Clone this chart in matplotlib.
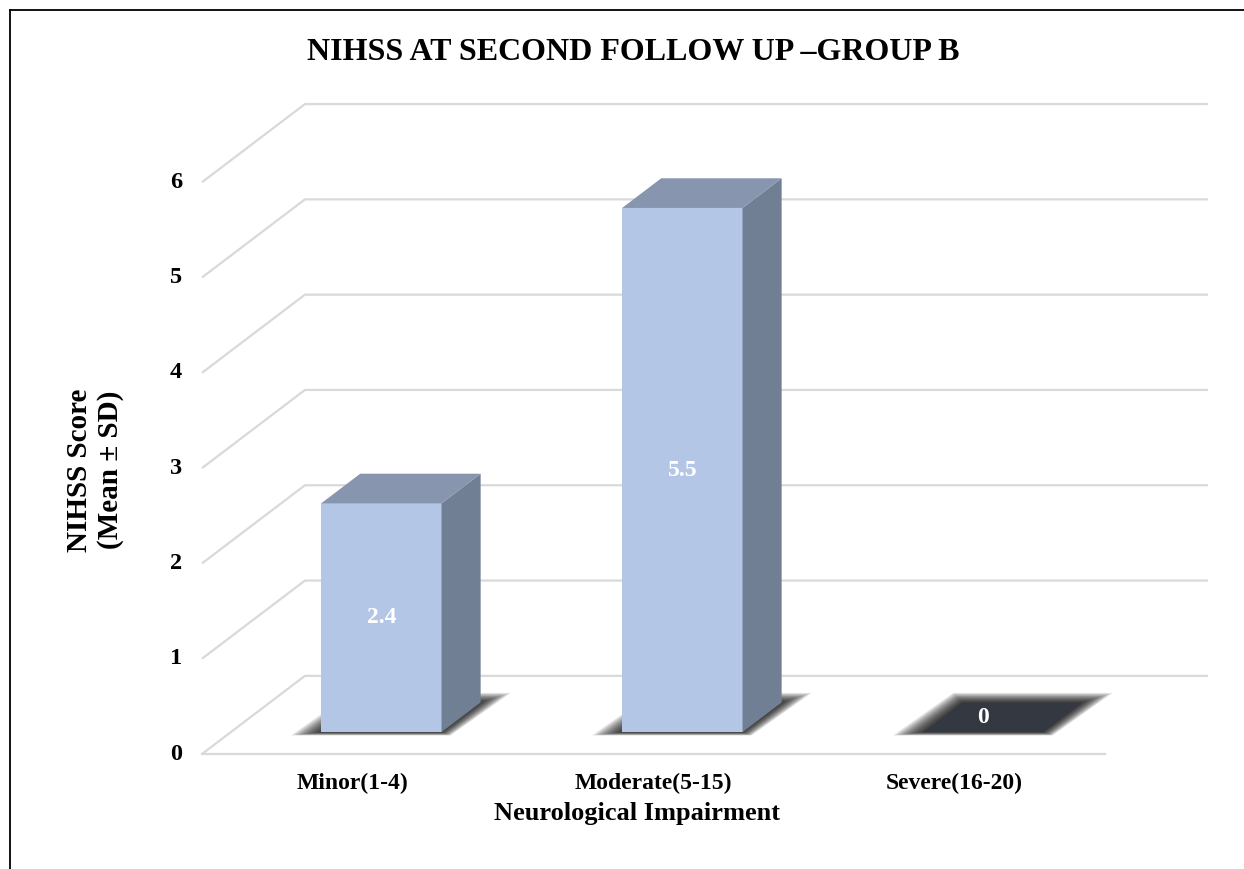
import numpy as np
import matplotlib.pyplot as plt
from matplotlib.patches import Polygon
from matplotlib.lines import Line2D

categories = ['Minor(1-4)', 'Moderate(5-15)', 'Severe(16-20)']
values = [2.4, 5.5, 0]
value_labels = ['2.4', '5.5', '0']
y_ticks = [0, 1, 2, 3, 4, 5, 6]

title = 'NIHSS AT SECOND FOLLOW UP \u2013GROUP B'
x_title = 'Neurological Impairment'
y_title = 'NIHSS Score\n(Mean \u00b1 SD)'

# fake 3d geometry (data units)
DX, DY = 0.342, 0.82      # depth offset of the back wall
BW = 0.40                 # bar width
Z0, Z1 = 0.28, 0.66       # bar front / back as fraction of depth

front_c = '#b4c6e5'
top_c = '#8796ae'
side_c = '#717f94'
flat_c = '#343840'
grid_c = '#d9d9d9'

plt.rcParams['font.family'] = ['Liberation Serif', 'DejaVu Serif']
plt.rcParams['font.weight'] = 'bold'

fig = plt.figure(figsize=(12.44, 8.69), dpi=100)
ax = fig.add_axes([0, 0, 1, 1])
ax.set_xlim(-0.5 - 202 / 301, -0.5 + (1244 - 202) / 301)
ax.set_ylim(-(869 - 754) / 95.3, 754 / 95.3)
ax.axis('off')

n = len(categories)
left, right = -0.5, n - 0.5

# gridlines: side wall + back wall
for v in y_ticks:
    ax.plot([left, left + DX, right + DX], [v, v + DY, v + DY],
            color=grid_c, lw=1.6, solid_capstyle='butt', zorder=1)
ax.plot([left, right], [0, 0], color=grid_c, lw=1.6, zorder=1)

for v in y_ticks:
    ax.text(left - 0.086, v, str(v), ha='center', va='center',
            fontsize=17.5, fontweight='bold')


def quad(pts, **kw):
    ax.add_patch(Polygon(pts, closed=True, **kw))


for i, (cat, val, lab) in enumerate(zip(categories, values, value_labels)):
    x0, x1 = i - BW / 2, i + BW / 2
    fy, by = Z0 * DY, Z1 * DY
    fdx, bdx = Z0 * DX, Z1 * DX

    # soft shadow on the floor
    for k in range(12):
        t = 1 - k / 12
        e = 0.10 * t
        quad([(x0 + fdx - e, fy - 0.035 * t),
              (x1 + fdx + e * 0.3, fy - 0.035 * t),
              (x1 + bdx + e, by + e),
              (x0 + bdx - e * 0.3, by + e)],
             facecolor='black', edgecolor='none', alpha=0.10, zorder=2)

    if val > 0:
        # front face
        quad([(x0 + fdx, fy), (x1 + fdx, fy), (x1 + fdx, val + fy), (x0 + fdx, val + fy)],
             facecolor=front_c, edgecolor='none', zorder=3)
        # side face
        quad([(x1 + fdx, fy), (x1 + bdx, by), (x1 + bdx, val + by), (x1 + fdx, val + fy)],
             facecolor=side_c, edgecolor='none', zorder=3)
        # top face
        quad([(x0 + fdx, val + fy), (x1 + fdx, val + fy), (x1 + bdx, val + by), (x0 + bdx, val + by)],
             facecolor=top_c, edgecolor='none', zorder=3)
        ax.text(i + fdx, val / 2 + fy, lab, ha='center', va='center',
                color='white', fontsize=17, fontweight='bold', zorder=4)
    else:
        quad([(x0 + fdx, fy), (x1 + fdx, fy), (x1 + bdx, by), (x0 + bdx, by)],
             facecolor=flat_c, edgecolor='none', zorder=3)
        ax.text(i + fdx, (fy + by) / 2, lab, ha='center', va='center',
                color='white', fontsize=17, fontweight='bold', zorder=4)

    ax.text(i, -0.304, cat, ha='center', va='center', fontsize=17, fontweight='bold')

ax.text(0.945, -0.62, x_title, ha='center', va='center',
        fontsize=19, fontweight='bold')
ax.text(-0.855, 2.98, y_title, ha='center', va='center', rotation=90,
        fontsize=21, fontweight='bold', multialignment='center')

fig.text(633 / 1244, 1 - 52 / 869, title, ha='center', va='center',
         fontsize=23, fontweight='bold')

# frame (top and left only)
fig.add_artist(Line2D([10 / 1244, 1], [1 - 10 / 869, 1 - 10 / 869], color='black', lw=1.3))
fig.add_artist(Line2D([10 / 1244, 10 / 1244], [0, 1 - 10 / 869], color='black', lw=1.3))

fig.savefig('out.png', dpi=100, facecolor='white')
